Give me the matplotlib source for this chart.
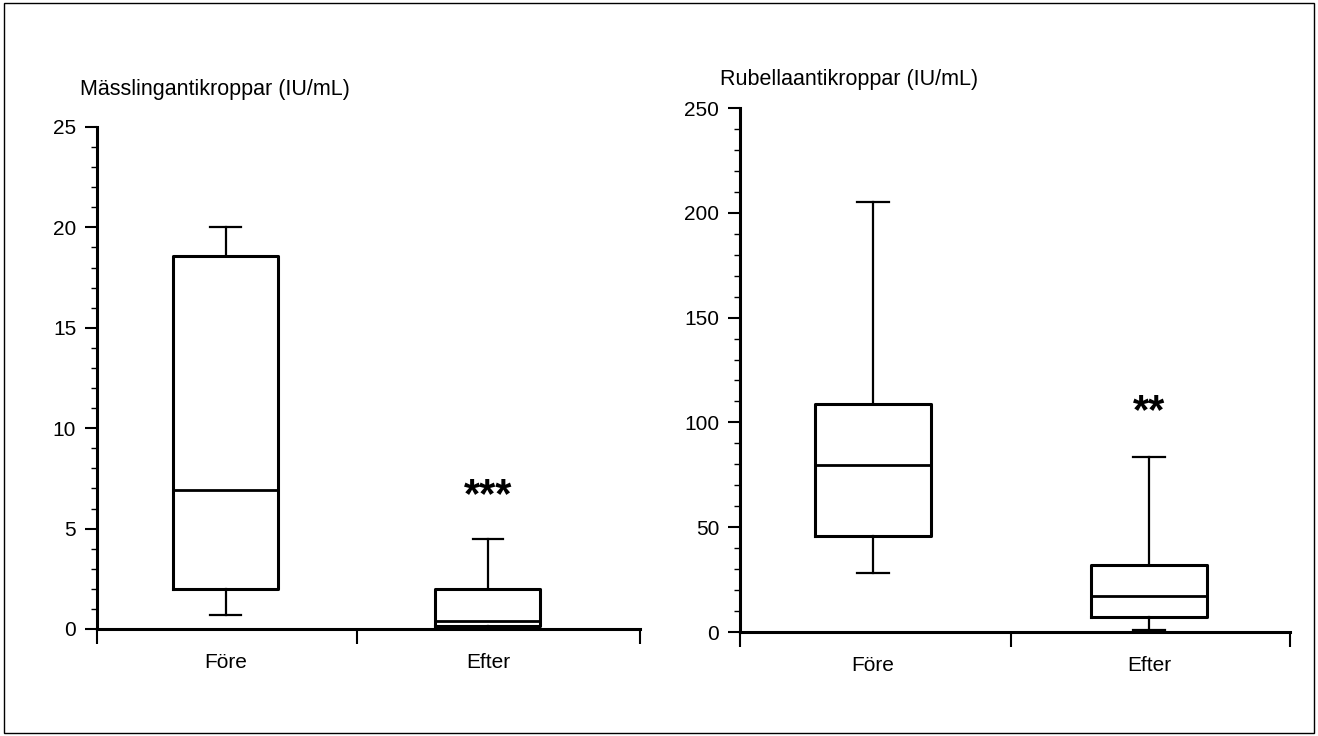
import matplotlib
matplotlib.use('Agg')
import matplotlib.pyplot as plt
from matplotlib.patches import Rectangle
from matplotlib.ticker import MultipleLocator

plt.rcParams['font.family'] = ['Liberation Sans', 'DejaVu Sans']

# Box data
groups = ['Före', 'Efter']

measles_low = [0.7, 0.05]
measles_q1 = [2.0, 0.15]
measles_med = [6.9, 0.4]
measles_q3 = [18.6, 2.0]
measles_high = [20.0, 4.5]
measles_star = ['', '***']
measles_star_y = [0, 6.6]

rubella_low = [28, 1]
rubella_q1 = [46, 7]
rubella_med = [79.5, 17]
rubella_q3 = [109, 32]
rubella_high = [205, 83.5]
rubella_star = ['', '**']
rubella_star_y = [0, 105]


def draw_panel(ax, low, q1, med, q3, high, stars, star_y, ymax, major, minor,
               xlim, width, ylabel, label_xy):
    stats = []
    for i in range(len(groups)):
        stats.append(dict(whislo=low[i], q1=q1[i], med=med[i], q3=q3[i], whishi=high[i], label=groups[i]))
    ax.bxp(stats, positions=[1, 2], widths=width, showfliers=False, capwidths=0.115,
           boxprops=dict(linewidth=2.2, color='black'),
           medianprops=dict(linewidth=2.0, color='black'),
           whiskerprops=dict(linewidth=1.6, color='black'),
           capprops=dict(linewidth=1.6, color='black'))
    for i, s in enumerate(stars):
        if s:
            ax.text(i + 1, star_y[i], s, ha='center', va='center', fontsize=30, fontweight='bold')

    ax.set_xlim(*xlim)
    ax.set_ylim(0, ymax)
    ax.spines['top'].set_visible(False)
    ax.spines['right'].set_visible(False)
    ax.spines['left'].set_linewidth(2.2)
    ax.spines['bottom'].set_linewidth(2.2)
    ax.spines['left'].set_bounds(0, ymax)

    ax.yaxis.set_major_locator(MultipleLocator(major))
    ax.yaxis.set_minor_locator(MultipleLocator(minor))
    ax.tick_params(axis='y', which='major', length=9, width=1.5, labelsize=15, pad=6)
    ax.tick_params(axis='y', which='minor', length=4, width=1.0)

    # x ticks at the boundaries, labels centered on boxes
    ax.set_xticks([xlim[0], 1.5, xlim[1]])
    ax.set_xticklabels([])
    ax.tick_params(axis='x', which='major', length=11, width=1.5)
    ax.set_xticks([1, 2], minor=True)
    ax.set_xticklabels(groups, minor=True)
    ax.tick_params(axis='x', which='minor', length=0, labelsize=15, pad=17)

    ax.text(label_xy[0], label_xy[1], ylabel, transform=ax.figure.transFigure,
            ha='left', va='center', fontsize=15.5)


fig = plt.figure(figsize=(13.18, 7.36), dpi=100)
fig.patches.append(Rectangle((4 / 1318, 3 / 736), 1310 / 1318, 730 / 736,
                             transform=fig.transFigure, fill=False, edgecolor='black', linewidth=1.0))

ax1 = fig.add_axes([97 / 1318, 1 - 629 / 736, 543 / 1318, 502 / 736])
draw_panel(ax1, measles_low, measles_q1, measles_med, measles_q3, measles_high,
           measles_star, measles_star_y, 25, 5, 1, (0.51, 2.58), 0.40,
           'Mässlingantikroppar (IU/mL)', (80 / 1318, 1 - 90 / 736))

ax2 = fig.add_axes([740 / 1318, 1 - 632 / 736, 550 / 1318, 524 / 736])
draw_panel(ax2, rubella_low, rubella_q1, rubella_med, rubella_q3, rubella_high,
           rubella_star, rubella_star_y, 250, 50, 10, (0.52, 2.51), 0.42,
           'Rubellaantikroppar (IU/mL)', (720 / 1318, 1 - 80 / 736))

fig.savefig('out.png', dpi=100)
